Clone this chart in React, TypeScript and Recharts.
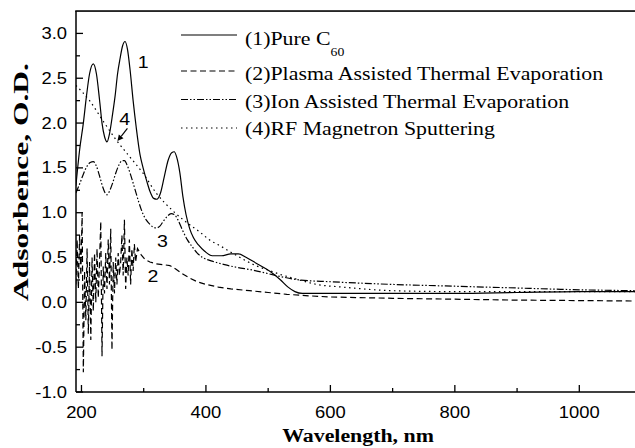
import React from 'react';
import { LineChart, Line, XAxis, YAxis, ReferenceLine, ReferenceDot, Legend } from 'recharts';

// ---------- data ----------
const wl1 = [191, 197, 203, 208, 213, 219, 224, 229, 233, 237, 241, 245, 250, 254, 258, 262, 266, 270, 274, 278, 283, 288, 294, 299, 305, 310, 316, 321, 327, 333, 339, 345, 349, 353, 358, 363, 368, 374, 380, 388, 398, 410, 425, 440, 452, 465, 480, 495, 508, 520, 532, 543, 555, 600, 700, 800, 900, 1000, 1090];
const abs1 = [1.3, 1.7, 2.0, 2.3, 2.55, 2.66, 2.55, 2.26, 2.0, 1.85, 1.79, 1.88, 2.1, 2.3, 2.55, 2.72, 2.86, 2.91, 2.82, 2.6, 2.25, 1.95, 1.65, 1.5, 1.35, 1.24, 1.16, 1.15, 1.22, 1.4, 1.58, 1.67, 1.68, 1.62, 1.45, 1.18, 0.98, 0.82, 0.72, 0.64, 0.57, 0.52, 0.52, 0.54, 0.54, 0.5, 0.44, 0.38, 0.32, 0.25, 0.17, 0.12, 0.1, 0.1, 0.1, 0.1, 0.11, 0.12, 0.12];

const wl2 = [191, 193, 195, 197, 199, 201, 203, 205, 207, 209, 211, 213, 215, 217, 219, 221, 223, 225, 227, 229, 231, 233, 235, 237, 239, 241, 243, 245, 247, 249, 251, 253, 255, 257, 259, 261, 263, 265, 267, 269, 271, 273, 275, 277, 279, 281, 283, 285, 287, 290, 296, 302, 310, 320, 332, 342, 352, 362, 374, 386, 400, 420, 440, 470, 500, 530, 560, 600, 700, 800, 900, 1000, 1090];
const abs2 = [0.2, 0.7, 0.15, 0.75, 0.3, 1.0, -0.78, 0.35, -0.2, 0.6, -0.35, 0.45, -0.42, 0.5, -0.1, 0.55, 0.0, 0.6, 0.05, 0.45, 0.9, -0.6, 0.4, 0.1, 0.55, 0.15, 0.7, 0.2, 0.82, -0.53, 0.45, 0.1, 0.5, 0.2, 0.55, 0.3, 0.45, 0.75, 0.3, 0.92, 0.15, 0.5, 0.3, 0.7, 0.2, 0.6, 0.35, 0.65, 0.45, 0.6, 0.53, 0.48, 0.45, 0.43, 0.42, 0.41, 0.37, 0.32, 0.27, 0.23, 0.2, 0.17, 0.15, 0.13, 0.11, 0.09, 0.075, 0.06, 0.045, 0.035, 0.025, 0.02, 0.015];

const wl3 = [191, 197, 203, 209, 214, 219, 224, 229, 234, 238, 241, 245, 250, 255, 260, 265, 269, 274, 280, 286, 292, 298, 304, 310, 315, 320, 326, 332, 338, 344, 349, 355, 362, 370, 378, 386, 395, 410, 430, 450, 475, 500, 525, 550, 600, 700, 800, 900, 1000, 1090];
const abs3 = [1.22, 1.32, 1.43, 1.52, 1.56, 1.57, 1.52, 1.41, 1.29, 1.22, 1.2, 1.24, 1.33, 1.44, 1.53, 1.58, 1.58, 1.52, 1.4, 1.26, 1.12, 1.0, 0.92, 0.87, 0.84, 0.83, 0.85, 0.91, 0.96, 0.99, 0.98, 0.92, 0.81, 0.7, 0.62, 0.55, 0.5, 0.46, 0.42, 0.39, 0.36, 0.32, 0.28, 0.25, 0.23, 0.2, 0.18, 0.16, 0.14, 0.13];

const wl4 = [191, 213, 235, 256, 278, 299, 320, 347, 375, 391, 405, 423, 440, 460, 480, 500, 520, 545, 578, 620, 700, 800, 900, 1000, 1090];
const abs4 = [2.42, 2.25, 2.02, 1.81, 1.62, 1.44, 1.22, 1.02, 0.86, 0.78, 0.7, 0.63, 0.56, 0.48, 0.41, 0.36, 0.31, 0.26, 0.2, 0.17, 0.13, 0.12, 0.12, 0.12, 0.12];

const seriesNames = ['(1)Pure C', '(2)Plasma Assisted Thermal Evaporation', '(3)Ion Assisted Thermal Evaporation', '(4)RF Magnetron Sputtering'];
const xTicks = [200, 300, 400, 500, 600, 700, 800, 900, 1000];
const yTicks = [-1, -0.75, -0.5, -0.25, 0, 0.25, 0.5, 0.75, 1, 1.25, 1.5, 1.75, 2, 2.25, 2.5, 2.75, 3];
const curveLabels = [
  { text: '1', x: 299, y: 2.68 },
  { text: '4', x: 269.5, y: 2.05 },
  { text: '3', x: 330, y: 0.68 },
  { text: '2', x: 315, y: 0.29 },
];
const arrowFrom = { x: 273.8, y: 1.94 };
const arrowTo = { x: 257.8, y: 1.8 };

// ---------- style ----------
const W = 635;
const H = 448;
const PLOT_LEFT = 76;
const PLOT_TOP = 11;
const PLOT_BOTTOM = 392;
const SANS = '"Liberation Sans", Arial, sans-serif';
const SERIF = '"Liberation Serif", "Times New Roman", serif';
const SX = 1.15;
const dashes = ['', '6 3.5', '7 2 1.5 2 1.5 2', '1.5 3.5'];

const toPts = (xs: number[], ys: number[]) => xs.map((x, i) => ({ x, y: ys[i] }));
const data1 = toPts(wl1, abs1);
const data2 = toPts(wl2, abs2);
const data3 = toPts(wl3, abs3);
const data4 = toPts(wl4, abs4);

const YTick = (props: any) => {
  const { y, payload } = props;
  const v = payload.value as number;
  const major = Math.abs(v * 2 - Math.round(v * 2)) < 1e-6;
  return (
    <g>
      <line x1={PLOT_LEFT} x2={PLOT_LEFT + (major ? 7 : 4)} y1={y} y2={y} stroke="#000" strokeWidth={1.3} />
      {major && (
        <text transform={`translate(67,${y + 5.5}) scale(${SX},1)`} textAnchor="end" fontFamily={SANS} fontSize={16} fill="#000">
          {v.toFixed(1)}
        </text>
      )}
    </g>
  );
};

const XTick = (props: any) => {
  const { x, payload } = props;
  const v = payload.value as number;
  const major = v % 200 === 0;
  return (
    <g>
      <line x1={x} x2={x} y1={PLOT_BOTTOM} y2={PLOT_BOTTOM - (major ? 7 : 4)} stroke="#000" strokeWidth={1.3} />
      {major && (
        <text transform={`translate(${x},417.5) scale(${SX},1)`} textAnchor="middle" fontFamily={SANS} fontSize={16} fill="#000">
          {v}
        </text>
      )}
    </g>
  );
};

const legendRows = [
  { lineY: 35, base: 44.5 },
  { lineY: 71, base: 79.5 },
  { lineY: 99.5, base: 107.5 },
  { lineY: 128, base: 135 },
];

const LegendContent = () => (
  <svg width={W} height={H} style={{ position: 'absolute', left: 0, top: 0 }}>
    <rect x={PLOT_LEFT - 0.75} y={PLOT_TOP - 0.75} width={W - PLOT_LEFT + 1} height={1.6} fill="#000" />
    {seriesNames.map((name, i) => (
      <g key={name}>
        <line x1={181} x2={237} y1={legendRows[i].lineY} y2={legendRows[i].lineY} stroke="#000" strokeWidth={1.2} strokeDasharray={dashes[i] || undefined} />
        <text transform={`translate(245,${legendRows[i].base}) scale(${SX},1)`} fontFamily={SERIF} fontSize={19} fill="#000">
          {name}
          {i === 0 && (
            <tspan fontSize={12} dy={11}>60</tspan>
          )}
        </text>
      </g>
    ))}
    <text transform={`translate(358,442) scale(${SX},1)`} textAnchor="middle" fontFamily={SERIF} fontWeight="bold" fontSize={19} fill="#000">
      Wavelength, nm
    </text>
    <text x={0} y={0} transform={`translate(28,182) rotate(-90)`} textAnchor="middle" fontFamily={SERIF} fontWeight="bold" fontSize={20} fill="#000" textLength={238} lengthAdjust="spacingAndGlyphs">
      Adsorbence, O.D.
    </text>
  </svg>
);

const ArrowShape = (props: any) => {
  const { x1, y1, x2, y2 } = props;
  const ang = Math.atan2(y2 - y1, x2 - x1);
  const L = 6;
  const Wd = 3;
  const bx = x2 - L * Math.cos(ang);
  const by = y2 - L * Math.sin(ang);
  const px = -Math.sin(ang) * Wd;
  const py = Math.cos(ang) * Wd;
  return (
    <g>
      <line x1={x1} y1={y1} x2={bx} y2={by} stroke="#000" strokeWidth={1.2} />
      <polygon points={`${x2},${y2} ${bx + px},${by + py} ${bx - px},${by - py}`} fill="#000" />
    </g>
  );
};

export default function App() {
  return (
    <div style={{ position: 'absolute', left: 0, top: 0, width: W, height: H, background: '#fff' }}>
      <LineChart width={W} height={H} margin={{ top: PLOT_TOP, right: 0, bottom: 0, left: 0 }}>
        <XAxis
          dataKey="x"
          type="number"
          domain={[191.2, 1089.5]}
          allowDataOverflow
          ticks={xTicks}
          interval={0}
          height={56}
          tickLine={false}
          axisLine={{ stroke: '#000', strokeWidth: 1.5 }}
          tick={(p: any) => <XTick {...p} />}
        />
        <YAxis
          type="number"
          domain={[-1, 3.25]}
          allowDataOverflow
          ticks={yTicks}
          interval={0}
          width={76}
          tickLine={false}
          axisLine={{ stroke: '#000', strokeWidth: 1.5 }}
          tick={(p: any) => <YTick {...p} />}
        />
        <Line data={data1} dataKey="y" name={seriesNames[0]} type="monotone" stroke="#000" strokeWidth={1.2} dot={false} isAnimationActive={false} />
        <Line data={data2} dataKey="y" name={seriesNames[1]} type="linear" stroke="#000" strokeWidth={1.2} strokeDasharray={dashes[1]} dot={false} isAnimationActive={false} />
        <Line data={data3} dataKey="y" name={seriesNames[2]} type="monotone" stroke="#000" strokeWidth={1.2} strokeDasharray={dashes[2]} dot={false} isAnimationActive={false} />
        <Line data={data4} dataKey="y" name={seriesNames[3]} type="monotone" stroke="#000" strokeWidth={1.2} strokeDasharray={dashes[3]} dot={false} isAnimationActive={false} />
        {curveLabels.map((c) => (
          <ReferenceDot
            key={c.text}
            x={c.x}
            y={c.y}
            r={0}
            ifOverflow="visible"
            shape={(p: any) => (
              <text transform={`translate(${p.cx},${p.cy + 6}) scale(${SX},1)`} textAnchor="middle" fontFamily={SANS} fontSize={17} fill="#000">
                {c.text}
              </text>
            )}
          />
        ))}
        <ReferenceLine segment={[arrowFrom, arrowTo]} ifOverflow="visible" shape={(p: any) => <ArrowShape {...p} />} />
        <Legend
          layout="horizontal"
          verticalAlign="middle"
          align="center"
          wrapperStyle={{ position: 'absolute', left: 0, top: 0, width: W, height: H, pointerEvents: 'none' }}
          content={() => <LegendContent />}
        />
      </LineChart>
    </div>
  );
}
